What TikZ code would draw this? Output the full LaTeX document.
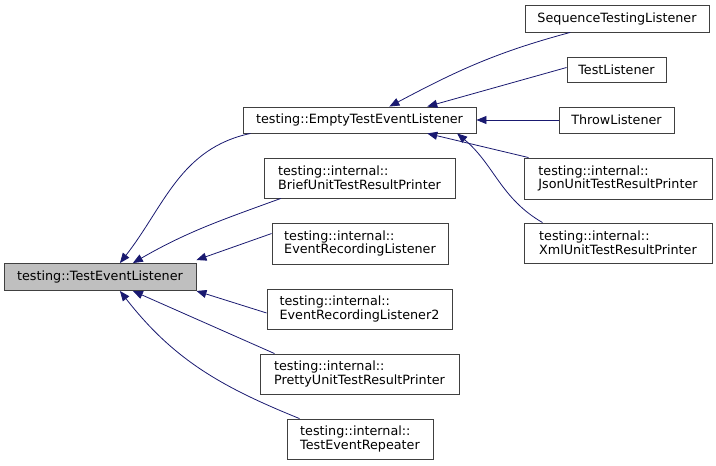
\documentclass[tikz,border=0pt]{standalone}
\usepackage{fontspec}
\setmainfont{DejaVu Sans}
\usepackage[HTML]{xcolor}
\usetikzlibrary{positioning, arrows, arrows.meta}

\definecolor{edgeblue}{HTML}{191970}
\definecolor{boxline}{HTML}{404040}
\definecolor{basefill}{HTML}{BFBFBF}

\begin{document}
\begin{tikzpicture}[
    x=1bp, y=-1bp,
    every node/.style={inner sep=0pt, font=\fontsize{12.8}{13.6}\selectfont},
    cls/.style={draw=boxline, line width=0.9pt, fill=white, align=left},
    edge/.style={draw=edgeblue, line width=0.8pt, -{Triangle[length=10bp, width=8bp]}}
]
    \useasboundingbox (0,0) rectangle (716,466);

    % 1. The base class and its direct children
    \node[cls, fill=basefill, minimum width=192bp, minimum height=27bp] (root) at (100,277) {testing::TestEventListener};
    \node[cls, minimum width=233bp, minimum height=26bp] (empty) at (359.5,120) {testing::EmptyTestEventListener};
    \node[cls, minimum width=191bp, minimum height=40bp] (brief) at (359.5,178) {testing::internal::\\BriefUnitTestResultPrinter};
    \node[cls, minimum width=176bp, minimum height=41bp] (erl) at (360,243.5) {testing::internal::\\EventRecordingListener};
    \node[cls, minimum width=185bp, minimum height=40bp] (erltwo) at (359.5,309) {testing::internal::\\EventRecordingListener2};
    \node[cls, minimum width=199bp, minimum height=40bp] (pretty) at (359.5,374) {testing::internal::\\PrettyUnitTestResultPrinter};
    \node[cls, minimum width=146bp, minimum height=40bp] (repeater) at (360,439) {testing::internal::\\TestEventRepeater};

    % 2. Children of the empty listener
    \node[cls, minimum width=184bp, minimum height=27bp] (seq) at (617,18.5) {SequenceTestingListener};
    \node[cls, minimum width=99bp, minimum height=25bp] (tl) at (616.5,69.5) {TestListener};
    \node[cls, minimum width=115bp, minimum height=26bp] (throw) at (616.5,120) {ThrowListener};
    \node[cls, minimum width=188bp, minimum height=41bp] (json) at (618,178.5) {testing::internal::\\JsonUnitTestResultPrinter};
    \node[cls, minimum width=188bp, minimum height=40bp] (xml) at (618,243) {testing::internal::\\XmlUnitTestResultPrinter};

    % 3. Inheritance arrows towards the base class
    \draw[edge] ([xshift=8]empty.south west) to[out=192, in=52] ([xshift=20]root.north);
    \draw[edge] ([xshift=-79]brief.south) to[out=200, in=30] ([xshift=33]root.north);
    \draw[edge] ([yshift=10]erl.west) -- ([yshift=3]root.north east);
    \draw[edge] ([yshift=-4]erltwo.west) -- (root.south east);
    \draw[edge] ([xshift=15]pretty.north west) -- ([xshift=33]root.south);
    \draw[edge] ([xshift=13]repeater.north west) to[out=158, in=-52] ([xshift=20]root.south);

    % 4. Inheritance arrows towards the empty listener
    \draw[edge] ([xshift=-47]seq.south) to[out=195, in=28] ([xshift=30]empty.north);
    \draw[edge] ([yshift=2]tl.west) -- ([xshift=68]empty.north);
    \draw[edge] (throw.west) -- (empty.east);
    \draw[edge] ([xshift=5]json.north west) -- ([xshift=68]empty.south);
    \draw[edge] ([xshift=19]xml.north west) to[out=150, in=-40] ([xshift=98]empty.south);

\end{tikzpicture}
\end{document}
